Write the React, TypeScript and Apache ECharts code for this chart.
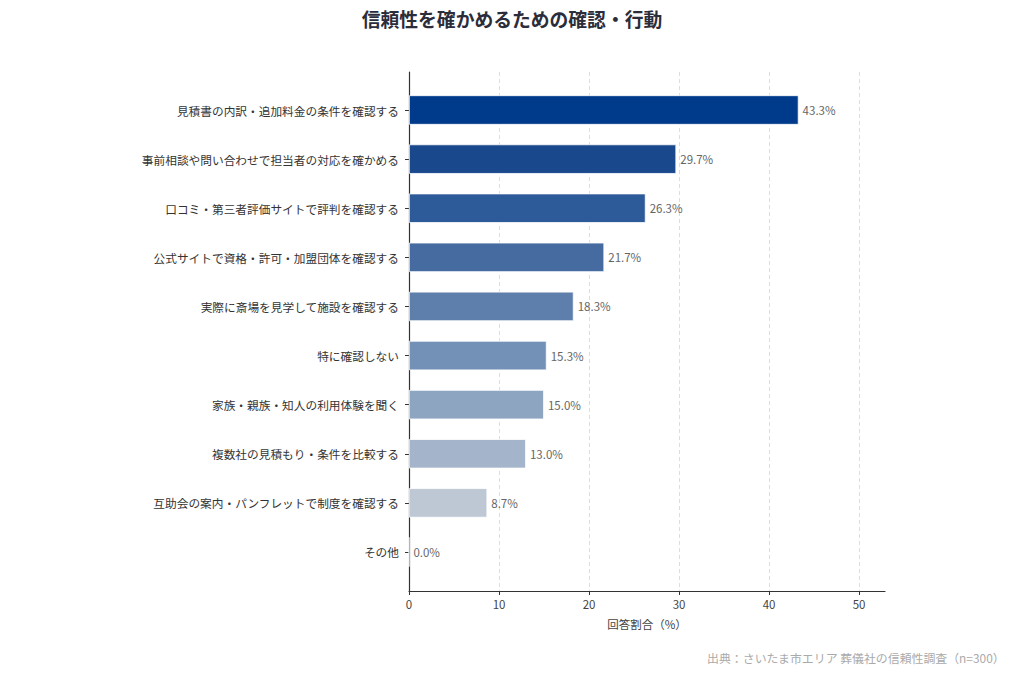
import React, { useEffect, useRef } from "react";
import * as echarts from "echarts";

const categories = [
  "見積書の内訳・追加料金の条件を確認する",
  "事前相談や問い合わせで担当者の対応を確かめる",
  "口コミ・第三者評価サイトで評判を確認する",
  "公式サイトで資格・許可・加盟団体を確認する",
  "実際に斎場を見学して施設を確認する",
  "特に確認しない",
  "家族・親族・知人の利用体験を聞く",
  "複数社の見積もり・条件を比較する",
  "互助会の案内・パンフレットで制度を確認する",
  "その他",
];
const values = [43.3, 29.7, 26.3, 21.7, 18.3, 15.3, 15.0, 13.0, 8.7, 0.0];
const colors = [
  "#003a8a",
  "#19488d",
  "#2d5a98",
  "#456ba0",
  "#5e7fac",
  "#7391b6",
  "#8ea5c2",
  "#a4b4ca",
  "#bdc8d4",
  "#d0d8e0",
];
const tickMax = 50;
const tickStep = 10;
const xMax = 52.9;

const FONT = "'Noto Sans CJK JP', 'Noto Sans', sans-serif";

export default function App() {
  const ref = useRef<HTMLDivElement>(null);
  useEffect(() => {
    if (!ref.current) return;
    const chart = echarts.init(ref.current, undefined, { renderer: "svg" });
    chart.setOption({
      animation: false,
      backgroundColor: "#ffffff",
      textStyle: { fontFamily: FONT },
      title: {
        text: "信頼性を確かめるための確認・行動",
        left: "center",
        top: 4,
        textStyle: { fontSize: 18.8, fontWeight: "bold", color: "#2b2d3b", fontFamily: FONT },
      },
      graphic: [
        {
          type: "text",
          right: 19,
          top: 652,
          style: {
            text: "出典：さいたま市エリア 葬儀社の信頼性調査（n=300）",
            fontSize: 11.9,
            fill: "#aaaaaa",
            fontFamily: FONT,
          },
        },
      ],
      grid: [
        { left: 409, right: 139, top: 72, bottom: 92 },
        { left: 409, right: 139, top: 85.45, bottom: 106.45 },
        { left: 409, right: 165, top: 72, bottom: 92 },
      ],
      xAxis: [
        {
          gridIndex: 0,
          type: "value",
          min: 0,
          max: xMax,
          axisLine: { show: true, lineStyle: { color: "#333", width: 1.2 } },
          axisTick: { show: false },
          axisLabel: { show: false },
          splitLine: { show: false },
          name: "回答割合（%）",
          nameLocation: "middle",
          nameGap: 27,
          nameTextStyle: { color: "#444", fontSize: 11.5, fontFamily: FONT },
        },
        {
          gridIndex: 1,
          type: "value",
          min: 0,
          max: xMax,
          show: false,
        },
        {
          gridIndex: 2,
          type: "value",
          min: 0,
          max: tickMax,
          interval: tickStep,
          axisLine: { show: false },
          axisTick: { show: true, length: 4, lineStyle: { color: "#333" } },
          axisLabel: { color: "#444", fontSize: 11.5, margin: 7 },
          splitLine: { show: true, lineStyle: { color: "#dddddd", type: [4, 3], width: 1 } },
        },
      ],
      yAxis: [
        {
          gridIndex: 0,
          type: "value",
          min: 0,
          max: 1,
          axisLine: { show: true, onZero: false, lineStyle: { color: "#333", width: 1.2 } },
          axisTick: { show: false },
          axisLabel: { show: false },
          splitLine: { show: false },
        },
        {
          gridIndex: 1,
          type: "category",
          data: categories,
          inverse: true,
          axisLine: { show: false },
          axisTick: { show: true, length: 4, alignWithLabel: true, lineStyle: { color: "#333" } },
          axisLabel: { color: "#333", fontSize: 11.7, margin: 10 },
          splitLine: { show: false },
        },
        {
          gridIndex: 2,
          type: "value",
          min: 0,
          max: 1,
          show: false,
        },
      ],
      series: [
        {
          type: "bar",
          xAxisIndex: 1,
          yAxisIndex: 1,
          barWidth: "60%",
          data: values.map((v, i) => ({
            value: v,
            itemStyle: { color: colors[i], borderColor: "#ffffff", borderWidth: 0.8 },
          })),
          label: {
            show: true,
            position: "right",
            distance: 4,
            color: "#666",
            fontSize: 11.5,
            formatter: (p: any) => p.value.toFixed(1) + "%",
          },
        },
      ],
    });
    return () => chart.dispose();
  }, []);
  return (
    <div
      ref={ref}
      style={{ position: "fixed", left: 0, top: 0, width: 1024, height: 683 }}
    />
  );
}
